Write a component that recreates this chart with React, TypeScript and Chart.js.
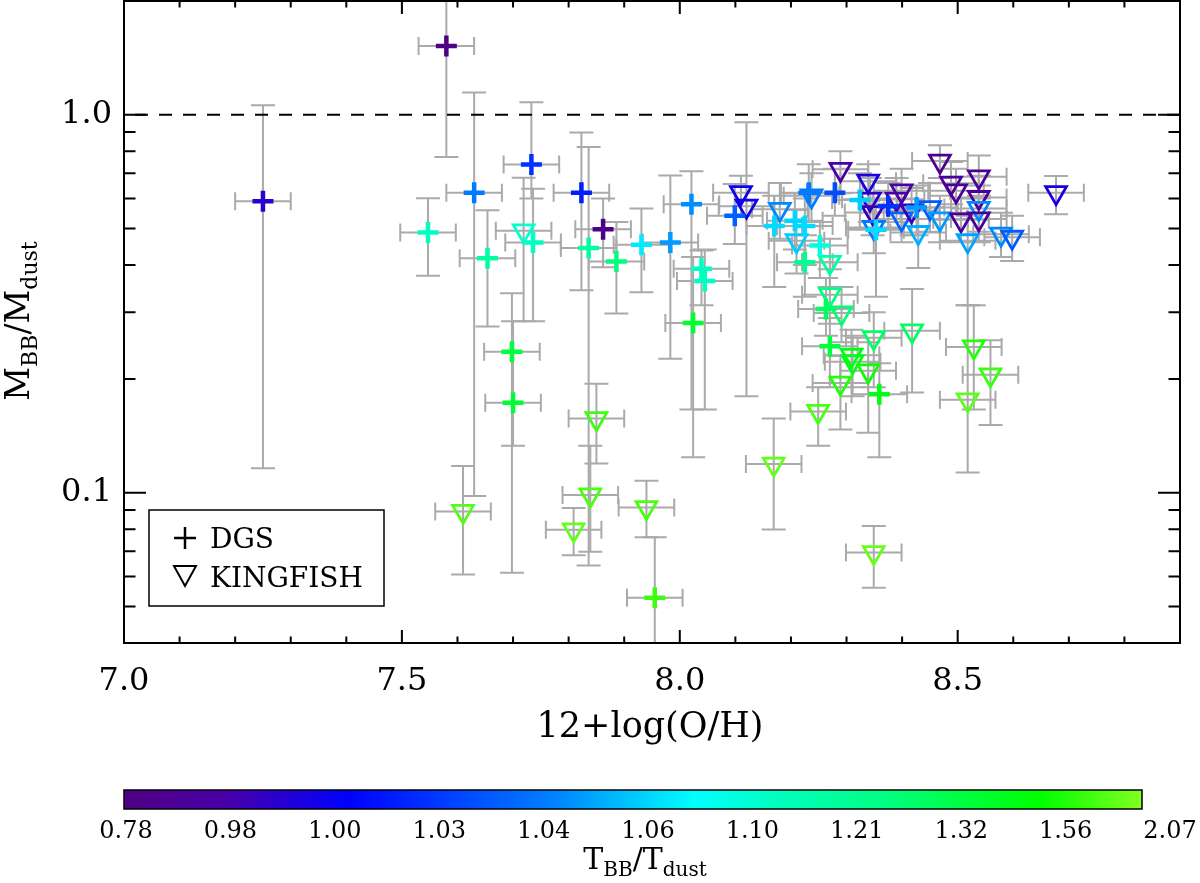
import React, { useEffect, useRef } from 'react';
import { Chart, registerables } from 'chart.js';

Chart.register(...registerables);

const FONT = "'DejaVu Serif', serif";

// ---------- DGS (crosses) ----------
const dgsX = [7.25, 7.58, 7.63, 7.733, 7.547, 7.654, 7.698, 7.7, 7.736, 7.823, 7.862, 7.836, 7.886, 7.931, 7.983, 8.021, 8.039, 8.045, 8.024, 7.955, 8.099, 8.17, 8.207, 8.225, 8.252, 8.225, 8.263, 8.232, 8.279, 8.324, 8.353, 8.375, 8.426, 8.27, 8.359];
const dgsY = [0.59, 1.52, 0.622, 0.739, 0.488, 0.417, 0.236, 0.173, 0.459, 0.622, 0.498, 0.444, 0.409, 0.453, 0.459, 0.58, 0.391, 0.363, 0.281, 0.0527, 0.54, 0.508, 0.524, 0.508, 0.451, 0.407, 0.306, 0.622, 0.622, 0.595, 0.496, 0.573, 0.568, 0.244, 0.182];
const dgsYHi = [1.06, 2.6, 1.145, 1.079, 0.601, 0.559, 0.337, 0.284, 0.637, 0.898, 0.6, 0.822, 0.52, 0.565, 0.691, 0.709, 0.437, 0.44, 0.42, 0.0762, 0.656, 0.61, 0.62, 0.6, 0.52, 0.48, 0.37, 0.74, 0.72, 0.7, 0.6, 0.66, 0.65, 0.29, 0.22];
const dgsYLo = [0.116, 0.773, 0.098, 0.6, 0.375, 0.275, 0.0614, 0.133, 0.284, 0.343, 0.395, 0.0641, 0.298, 0.339, 0.226, 0.166, 0.313, 0.166, 0.124, 0.03, 0.455, 0.35, 0.44, 0.4, 0.37, 0.33, 0.26, 0.52, 0.54, 0.5, 0.33, 0.5, 0.48, 0.19, 0.124];
const dgsXErr = [0.05, 0.05, 0.05, 0.05, 0.05, 0.05, 0.05, 0.05, 0.05, 0.05, 0.05, 0.05, 0.05, 0.05, 0.05, 0.05, 0.05, 0.05, 0.05, 0.05, 0.05, 0.05, 0.05, 0.05, 0.05, 0.05, 0.05, 0.05, 0.05, 0.05, 0.05, 0.05, 0.05, 0.05, 0.05];
const dgsT = [0.99, 0.79, 1.042, 1.029, 1.14, 1.2, 1.39, 1.42, 1.14, 1.02, 0.82, 1.2, 1.27, 1.075, 1.05, 1.047, 1.14, 1.14, 1.43, 1.8, 1.037, 1.068, 1.066, 1.068, 1.1, 1.23, 1.31, 1.042, 1.034, 1.062, 1.068, 1.03, 1.05, 1.39, 1.5];

// ---------- KINGFISH (open down-triangles) ----------
const kfX = [7.719, 7.61, 7.85, 7.839, 7.809, 7.94, 8.169, 8.349, 8.11, 8.12, 8.18, 8.21, 8.27, 8.27, 8.291, 8.237, 8.289, 8.339, 8.342, 8.347, 8.349, 8.399, 8.39, 8.399, 8.417, 8.429, 8.45, 8.468, 8.468, 8.488, 8.497, 8.506, 8.518, 8.538, 8.538, 8.538, 8.538, 8.578, 8.598, 8.677, 8.309, 8.311, 8.349, 8.418, 8.339, 8.289, 8.249, 8.529, 8.559, 8.518];
const kfY = [0.493, 0.0892, 0.157, 0.0986, 0.0797, 0.0913, 0.119, 0.0694, 0.622, 0.573, 0.562, 0.464, 0.407, 0.334, 0.299, 0.61, 0.717, 0.667, 0.598, 0.551, 0.503, 0.629, 0.598, 0.53, 0.557, 0.488, 0.568, 0.53, 0.754, 0.659, 0.629, 0.527, 0.464, 0.685, 0.604, 0.565, 0.53, 0.483, 0.474, 0.622, 0.231, 0.222, 0.257, 0.268, 0.21, 0.195, 0.164, 0.243, 0.205, 0.176];
const kfYHi = [0.681, 0.1176, 0.194, 0.133, 0.0911, 0.1075, 0.157, 0.0816, 0.69, 0.956, 0.66, 0.56, 0.47, 0.39, 0.35, 0.7, 0.8, 0.74, 0.68, 0.62, 0.58, 0.72, 0.68, 0.6, 0.64, 0.56, 0.66, 0.61, 0.83, 0.75, 0.72, 0.6, 0.54, 0.78, 0.69, 0.65, 0.61, 0.55, 0.54, 0.688, 0.27, 0.26, 0.3, 0.346, 0.25, 0.23, 0.19, 0.313, 0.253, 0.313];
const kfYLo = [0.284, 0.0607, 0.1195, 0.0697, 0.0683, 0.0762, 0.0799, 0.056, 0.54, 0.18, 0.47, 0.38, 0.35, 0.28, 0.25, 0.52, 0.62, 0.59, 0.52, 0.48, 0.43, 0.55, 0.52, 0.46, 0.48, 0.393, 0.49, 0.46, 0.68, 0.58, 0.55, 0.46, 0.313, 0.6, 0.53, 0.49, 0.46, 0.42, 0.41, 0.545, 0.19, 0.18, 0.19, 0.184, 0.144, 0.147, 0.133, 0.166, 0.151, 0.113];
const kfXErr = [0.05, 0.05, 0.05, 0.05, 0.05, 0.05, 0.05, 0.05, 0.05, 0.05, 0.05, 0.05, 0.05, 0.05, 0.05, 0.05, 0.05, 0.05, 0.05, 0.05, 0.05, 0.05, 0.05, 0.05, 0.05, 0.05, 0.05, 0.05, 0.05, 0.05, 0.05, 0.05, 0.05, 0.05, 0.05, 0.05, 0.05, 0.05, 0.05, 0.05, 0.05, 0.05, 0.05, 0.05, 0.05, 0.05, 0.05, 0.05, 0.05, 0.05];
const kfT = [1.12, 1.88, 1.8, 1.85, 1.95, 1.85, 1.95, 1.97, 1.0, 0.998, 1.046, 1.062, 1.2, 1.26, 1.28, 1.042, 0.96, 0.995, 0.99, 0.985, 1.042, 0.96, 0.94, 1.038, 0.985, 1.054, 1.036, 1.05, 0.84, 0.88, 0.9, 0.92, 1.052, 0.88, 0.9, 1.046, 0.9, 1.046, 1.036, 0.995, 1.5, 1.5, 1.3, 1.3, 1.6, 1.7, 1.85, 1.7, 1.8, 1.92];

// ---------- axes / colour bar labels ----------
const xMajorTicks = [7.0, 7.5, 8.0, 8.5];
const yTicks = [0.1, 1.0];
const yTickLabels = ['0.1', '1.0'];
const yMinorTicks = [0.05, 0.06, 0.07, 0.08, 0.09, 0.2, 0.3, 0.4, 0.5, 0.6, 0.7, 0.8, 0.9, 2.0];
const cbarLabels = [0.78, 0.98, 1.0, 1.03, 1.04, 1.06, 1.1, 1.21, 1.32, 1.56, 2.07];

const COLOR_STOPS: Array<[number, [number, number, number]]> = [
  [0.0, [80, 0, 130]],
  [0.1, [72, 0, 170]],
  [0.22, [0, 0, 255]],
  [0.32, [0, 64, 255]],
  [0.42, [0, 128, 255]],
  [0.56, [0, 255, 255]],
  [0.64, [0, 255, 192]],
  [0.75, [0, 255, 128]],
  [0.9, [0, 255, 0]],
  [1.0, [128, 255, 32]],
];

function colormap(f: number): string {
  const v = Math.max(0, Math.min(1, f));
  for (let i = 0; i < COLOR_STOPS.length - 1; i++) {
    const [f0, c0] = COLOR_STOPS[i];
    const [f1, c1] = COLOR_STOPS[i + 1];
    if (v <= f1) {
      const t = (v - f0) / (f1 - f0);
      const c = c0.map((a, k) => Math.round(a + (c1[k] - a) * t));
      return `rgb(${c[0]},${c[1]},${c[2]})`;
    }
  }
  const c = COLOR_STOPS[COLOR_STOPS.length - 1][1];
  return `rgb(${c[0]},${c[1]},${c[2]})`;
}

function ratioToFraction(t: number): number {
  const n = cbarLabels.length - 1;
  if (t <= cbarLabels[0]) return 0;
  for (let i = 0; i < n; i++) {
    if (t <= cbarLabels[i + 1]) {
      return (i + (t - cbarLabels[i]) / (cbarLabels[i + 1] - cbarLabels[i])) / n;
    }
  }
  return 1;
}

type Part = { text: string; sub?: boolean };

function drawRich(
  ctx: CanvasRenderingContext2D,
  parts: Part[],
  size: number,
  subSize: number,
  subShift: number,
  cx: number,
  baseline: number,
  rotate: boolean
) {
  ctx.save();
  ctx.translate(cx, baseline);
  if (rotate) ctx.rotate(-Math.PI / 2);
  ctx.textAlign = 'left';
  ctx.textBaseline = 'alphabetic';
  ctx.fillStyle = '#000';
  let total = 0;
  const widths = parts.map((p) => {
    ctx.font = `${p.sub ? subSize : size}px ${FONT}`;
    const w = ctx.measureText(p.text).width;
    total += w;
    return w;
  });
  let x = -total / 2;
  parts.forEach((p, i) => {
    ctx.font = `${p.sub ? subSize : size}px ${FONT}`;
    ctx.fillText(p.text, x, p.sub ? subShift : 0);
    x += widths[i];
  });
  ctx.restore();
}

const errorBarPlugin = {
  id: 'errorBars',
  beforeDatasetsDraw(chart: any) {
    const { ctx, chartArea: a } = chart;
    const xs = chart.scales.x;
    const ys = chart.scales.y;
    ctx.save();
    ctx.beginPath();
    ctx.rect(a.left, a.top, a.right - a.left, a.bottom - a.top);
    ctx.clip();
    ctx.strokeStyle = '#aaaaaa';
    ctx.lineWidth = 2;
    chart.data.datasets.forEach((ds: any) => {
      ds.data.forEach((pt: any, i: number) => {
        const px = xs.getPixelForValue(pt.x);
        const py = ys.getPixelForValue(pt.y);
        const yh = ys.getPixelForValue(ds.yHi[i]);
        const yl = ys.getPixelForValue(ds.yLo[i]);
        const xl = xs.getPixelForValue(pt.x - ds.xErr[i]);
        const xr = xs.getPixelForValue(pt.x + ds.xErr[i]);
        ctx.beginPath();
        ctx.moveTo(px, yh); ctx.lineTo(px, yl);
        ctx.moveTo(px - 12, yh); ctx.lineTo(px + 12, yh);
        ctx.moveTo(px - 12, yl); ctx.lineTo(px + 12, yl);
        ctx.moveTo(xl, py); ctx.lineTo(xr, py);
        ctx.moveTo(xl, py - 9); ctx.lineTo(xl, py + 9);
        ctx.moveTo(xr, py - 9); ctx.lineTo(xr, py + 9);
        ctx.stroke();
      });
    });
    // dashed reference line at 1.0
    const y1 = ys.getPixelForValue(1);
    ctx.strokeStyle = '#000';
    ctx.setLineDash([13, 11]);
    ctx.lineDashOffset = 13;
    ctx.beginPath();
    ctx.moveTo(a.left, y1);
    ctx.lineTo(a.right, y1);
    ctx.stroke();
    ctx.restore();
  },
};

const framePlugin = {
  id: 'frame',
  afterDatasetsDraw(chart: any) {
    const { ctx, chartArea: a } = chart;
    const xs = chart.scales.x;
    const ys = chart.scales.y;
    ctx.save();
    ctx.strokeStyle = '#000';
    ctx.lineWidth = 2;
    ctx.strokeRect(a.left, a.top, a.right - a.left, a.bottom - a.top);
    ctx.beginPath();
    for (let k = 70; k <= 89; k++) {
      const v = k / 10;
      const px = xs.getPixelForValue(v);
      const major = xMajorTicks.some((m) => Math.abs(m - v) < 1e-6);
      const len = major ? 13 : 6.5;
      ctx.moveTo(px, a.bottom); ctx.lineTo(px, a.bottom - len);
      ctx.moveTo(px, a.top); ctx.lineTo(px, a.top + len);
    }
    const yAll = [...yMinorTicks.map((v) => [v, 11.5]), ...yTicks.map((v) => [v, 22])];
    yAll.forEach(([v, len]) => {
      const py = ys.getPixelForValue(v);
      if (py < a.top - 1 || py > a.bottom + 1) return;
      ctx.moveTo(a.left, py); ctx.lineTo(a.left + len, py);
      ctx.moveTo(a.right, py); ctx.lineTo(a.right - len, py);
    });
    ctx.stroke();
    ctx.restore();
  },
};

const decorPlugin = {
  id: 'decor',
  afterDraw(chart: any) {
    const { ctx, chartArea: a } = chart;
    // axis titles
    drawRich(ctx, [{ text: '12+log(O/H)' }], 35, 35, 0, (a.left + a.right) / 2 - 2, a.bottom + 94, false);
    drawRich(
      ctx,
      [{ text: 'M' }, { text: 'BB', sub: true }, { text: '/' }, { text: 'M' }, { text: 'dust', sub: true }],
      33, 22, 8, 29, 321, true
    );

    // legend
    const lx = a.left + 25;
    const ly = a.bottom - 133;
    ctx.save();
    ctx.strokeStyle = '#000';
    ctx.lineWidth = 1.5;
    ctx.strokeRect(lx, ly, 235, 96);
    ctx.lineWidth = 2.5;
    ctx.beginPath();
    ctx.moveTo(lx + 25, ly + 28); ctx.lineTo(lx + 47, ly + 28);
    ctx.moveTo(lx + 36, ly + 17); ctx.lineTo(lx + 36, ly + 39);
    ctx.stroke();
    ctx.lineWidth = 2;
    ctx.beginPath();
    ctx.moveTo(lx + 25, ly + 56);
    ctx.lineTo(lx + 47, ly + 56);
    ctx.lineTo(lx + 36, ly + 76);
    ctx.closePath();
    ctx.stroke();
    ctx.fillStyle = '#000';
    ctx.font = `28px ${FONT}`;
    ctx.textAlign = 'left';
    ctx.textBaseline = 'alphabetic';
    ctx.fillText('DGS', lx + 61, ly + 38);
    ctx.fillText('KINGFISH', lx + 61, ly + 77);
    ctx.restore();

    // colour bar
    const cbL = a.left;
    const cbW = 1018;
    const cbT = a.bottom + 147;
    const cbH = 19;
    ctx.save();
    const g = ctx.createLinearGradient(cbL, 0, cbL + cbW, 0);
    COLOR_STOPS.forEach(([f]) => g.addColorStop(f, colormap(f)));
    ctx.fillStyle = g;
    ctx.fillRect(cbL, cbT, cbW, cbH);
    ctx.strokeStyle = '#000';
    ctx.lineWidth = 1.5;
    ctx.strokeRect(cbL, cbT, cbW, cbH);
    ctx.fillStyle = '#000';
    ctx.font = `24px ${FONT}`;
    ctx.textAlign = 'center';
    ctx.textBaseline = 'alphabetic';
    cbarLabels.forEach((v, i) => {
      ctx.fillText(v.toFixed(2), cbL + 2 + i * 104.4, cbT + 48);
    });
    ctx.restore();
    drawRich(
      ctx,
      [{ text: 'T' }, { text: 'BB', sub: true }, { text: '/' }, { text: 'T' }, { text: 'dust', sub: true }],
      30, 20, 7, 645, cbT + 79, false
    );
  },
};

function zeroPadding(s: any) {
  s.paddingTop = 0;
  s.paddingBottom = 0;
  s.paddingLeft = 0;
  s.paddingRight = 0;
}

export default function App() {
  const ref = useRef<HTMLCanvasElement | null>(null);
  useEffect(() => {
    if (!ref.current) return;
    const dgsColors = dgsT.map((t) => colormap(ratioToFraction(t)));
    const kfColors = kfT.map((t) => colormap(ratioToFraction(t)));
    const chart = new Chart(ref.current, {
      type: 'scatter',
      data: {
        datasets: [
          {
            label: 'DGS',
            data: dgsX.map((x, i) => ({ x, y: dgsY[i] })),
            pointStyle: 'cross',
            pointRadius: 10.5,
            pointBorderWidth: 4.5,
            pointBorderColor: dgsColors,
            pointBackgroundColor: 'rgba(0,0,0,0)',
            yHi: dgsYHi,
            yLo: dgsYLo,
            xErr: dgsXErr,
          } as any,
          {
            label: 'KINGFISH',
            data: kfX.map((x, i) => ({ x, y: kfY[i] })),
            pointStyle: 'triangle',
            pointRotation: 180,
            pointRadius: 12,
            pointBorderWidth: 2.8,
            pointBorderColor: kfColors,
            pointBackgroundColor: 'rgba(0,0,0,0)',
            yHi: kfYHi,
            yLo: kfYLo,
            xErr: kfXErr,
          } as any,
        ],
      },
      options: {
        animation: false,
        responsive: false,
        devicePixelRatio: 1,
        events: [],
        layout: { padding: { left: 0, right: 20, top: 1, bottom: 0 }, autoPadding: false } as any,
        plugins: {
          legend: { display: false },
          tooltip: { enabled: false },
          title: { display: false },
        },
        scales: {
          x: {
            type: 'linear',
            min: 7.0,
            max: 8.9,
            grid: { display: false, drawTicks: false },
            border: { display: false },
            afterBuildTicks: (s: any) => {
              s.ticks = xMajorTicks.map((v) => ({ value: v }));
            },
            afterFit: (s: any) => {
              s.height = 240;
              zeroPadding(s);
            },
            ticks: {
              autoSkip: false,
              maxRotation: 0,
              padding: 19,
              color: '#000',
              font: { family: FONT, size: 32 },
              callback: (v: any) => Number(v).toFixed(1),
            },
          },
          y: {
            type: 'logarithmic',
            min: 0.04,
            max: 2.0,
            grid: { display: false, drawTicks: false },
            border: { display: false },
            afterBuildTicks: (s: any) => {
              s.ticks = yTicks.map((v) => ({ value: v }));
            },
            afterFit: (s: any) => {
              s.width = 124;
              zeroPadding(s);
            },
            ticks: {
              autoSkip: false,
              padding: 12,
              color: '#000',
              font: { family: FONT, size: 32 },
              callback: (_v: any, i: number) => yTickLabels[i],
            },
          },
        },
      } as any,
      plugins: [errorBarPlugin, framePlugin, decorPlugin],
    });
    return () => chart.destroy();
  }, []);

  return (
    <div style={{ position: 'absolute', left: 0, top: 0, width: 1200, height: 883, background: '#fff' }}>
      <canvas ref={ref} width={1200} height={883} style={{ width: 1200, height: 883, display: 'block' }} />
    </div>
  );
}
